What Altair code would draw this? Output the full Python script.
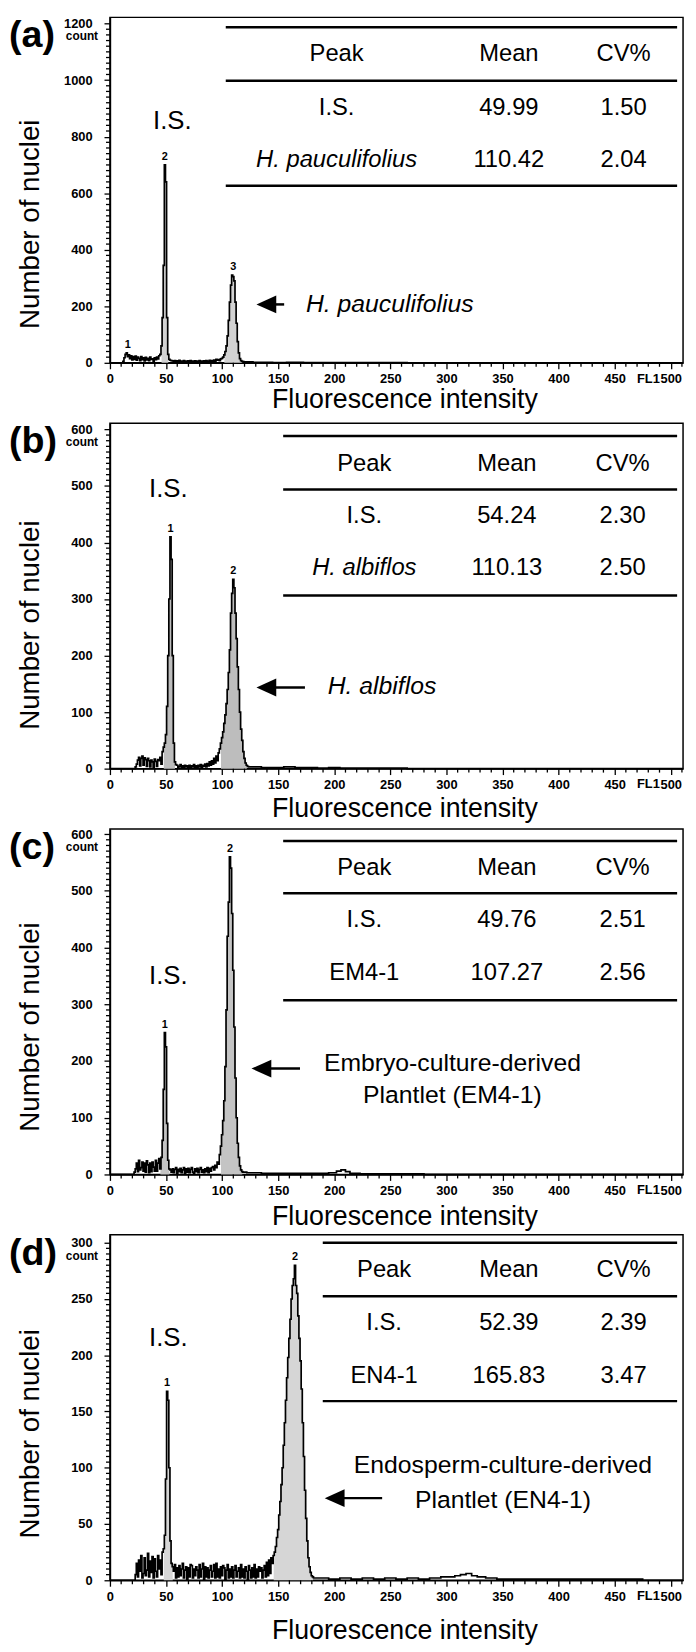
import altair as alt
import pandas as pd

W, H = 579, 349
XMAX = 511
FONT = "Liberation Sans"

# ---------------- axis ticks ----------------
x_ticks = [0, 50, 100, 150, 200, 250, 300, 350, 400, 450, 500]
x_minor = [10, 20, 30, 40, 60, 70, 80, 90, 110, 120, 130, 140, 160, 170, 180, 190,
           210, 220, 230, 240, 260, 270, 280, 290, 310, 320, 330, 340, 360, 370, 380, 390,
           410, 420, 430, 440, 460, 470, 480, 490, 510]

# ---------------- panel (a) ----------------
a_start = 11
a_counts = [0, 5, 18, 30, 35, 22, 28, 15, 25, 10, 22, 12, 24, 9, 20, 16, 8, 22, 11, 18,
            7, 19, 10, 16, 8, 20, 12, 14, 6, 18, 11, 20, 14, 25, 30,
            60, 160, 345, 700, 640, 160, 30, 12, 9, 8,
            7, 3, 8, 2, 7, 4, 9, 3, 6, 2, 8, 3, 6, 2, 7, 4, 8, 2, 6, 3,
            7, 2, 6, 3, 8, 2, 6, 3, 7, 4, 8, 3, 6, 9, 4, 8, 5, 10, 6, 12, 9, 11, 8, 14, 16,
            20, 28, 40, 60, 95, 150, 215, 275, 310, 305, 290, 215, 140, 75, 35, 15, 8, 5, 4, 3]
a_tail_x = [125, 130, 140, 150, 165, 180, 200, 220, 250, 280, 511]
a_tail_y = [3, 2, 2, 1, 2, 1, 1, 1, 1, 0, 0]
a_gates = [(46, 52), (102, 118)]
a_yticks = [0, 200, 400, 600, 800, 1000, 1200]
a_peaks_x = [16, 49, 110]
a_peaks_y = [35, 700, 310]
a_peaks_t = ["1", "2", "3"]
a_rows_peak = ["I.S.", "H. pauculifolius"]
a_rows_mean = ["49.99", "110.42"]
a_rows_cv = ["1.50", "2.04"]
a_rows_italic = [False, True]
a_note = ["H. pauculifolius"]

# ---------------- panel (b) ----------------
b_start = 22
b_counts = [0, 3, 8, 15, 20, 5, 18, 22, 6, 19, 16, 4, 18, 14, 3, 15, 12, 2, 17, 13,
            4, 16, 14, 20, 8, 30,
            38, 45, 60, 110, 200, 300, 410, 370, 200, 45, 12, 7,
            6, 2, 4, 7, 2, 5, 1, 6, 3, 5, 2, 6, 1, 5, 3, 7, 2, 5, 1, 6,
            3, 7, 2, 6, 4, 8, 3, 9, 5, 12, 6, 14, 8, 18, 10, 22, 14, 28,
            35, 45, 55, 65, 80, 95, 115, 140, 170, 210, 275, 310, 335, 320, 275, 230, 180,
            140, 100, 70, 50, 30, 18, 10, 6, 4, 3]
b_tail_x = [130, 140, 150, 160, 170, 180, 190, 200, 210, 220, 230, 250, 280, 511]
b_tail_y = [3, 2, 2, 3, 2, 2, 1, 2, 1, 1, 1, 1, 0, 0]
b_gates = [(48, 58), (99, 122)]
b_yticks = [0, 100, 200, 300, 400, 500, 600]
b_peaks_x = [54, 110]
b_peaks_y = [410, 335]
b_peaks_t = ["1", "2"]
b_rows_peak = ["I.S.", "H. albiflos"]
b_rows_mean = ["54.24", "110.13"]
b_rows_cv = ["2.30", "2.50"]
b_rows_italic = [False, True]
b_note = ["H. albiflos"]

# ---------------- panel (c) ----------------
c_start = 21
c_counts = [0, 4, 10, 20, 5, 25, 8, 12, 22, 6, 20, 4, 24, 17, 3, 20, 5, 22, 13, 6,
            25, 6, 20, 28, 10, 30,
            60, 150, 250, 225, 90, 25, 10, 8,
            4, 10, 3, 9, 12, 2, 9, 5, 11, 3, 8, 12, 2, 10, 4, 11, 3, 9, 12, 4,
            2, 10, 5, 11, 3, 9, 12, 4, 8, 3, 10, 5, 12, 3, 11, 6, 12, 14, 8, 16,
            12, 22, 18, 35, 50,
            70, 95, 130, 190, 290, 420, 480, 560, 540, 460, 360, 260, 170, 100, 55, 30, 15, 8, 5, 4]
c_tail_x = [125, 130, 140, 150, 160, 170, 180, 190, 200, 204, 208, 212, 216, 230, 260, 300, 511]
c_tail_y = [3, 3, 2, 2, 2, 2, 2, 2, 3, 6, 8, 5, 2, 1, 1, 0, 0]
c_gates = [(45, 53), (99, 118)]
c_yticks = [0, 100, 200, 300, 400, 500, 600]
c_peaks_x = [49, 107]
c_peaks_y = [250, 560]
c_peaks_t = ["1", "2"]
c_rows_peak = ["I.S.", "EM4-1"]
c_rows_mean = ["49.76", "107.27"]
c_rows_cv = ["2.51", "2.56"]
c_rows_italic = [False, False]
c_note = ["Embryo-culture-derived", "Plantlet (EM4-1)"]

# ---------------- panel (d) ----------------
d_start = 22
d_counts = [0, 5, 15, 3, 18, 8, 22, 2, 6, 20, 4, 9, 24, 3, 17, 7, 21, 2, 19, 8,
            3, 22, 10, 18, 5, 25, 28,
            40, 90, 168, 160, 100, 35, 15, 12,
            8, 14, 2, 11, 3, 13, 4, 10, 15, 2, 9, 12, 1, 11, 3, 14, 13, 2, 10, 4,
            12, 9, 2, 14, 3, 10, 15, 1, 12, 3, 11, 2, 9, 13, 3, 8, 14, 2, 15, 3,
            10, 2, 12, 4, 13, 11, 1, 9, 14, 2, 10, 3, 12, 2, 9, 13, 3, 8, 11, 2,
            14, 3, 10, 2, 12, 8, 1, 13, 9, 2, 11, 3, 14, 2, 10, 3, 12, 8, 11, 2,
            9, 13, 3, 16, 4, 18, 6, 20, 15,
            22, 25, 30, 38, 45, 58, 70, 85, 100, 120, 140, 160, 180, 198, 215, 232, 250, 262,
            268, 280, 262, 255, 235, 215, 195, 170, 140, 110, 80, 55, 35, 20, 12, 7, 4, 3, 2]
d_tail_x = [190, 200, 210, 220, 230, 240, 250, 260, 270, 280, 290, 300, 305, 310, 315, 320,
            325, 330, 340, 350, 370, 400, 430, 460, 490, 511]
d_tail_y = [2, 1, 2, 1, 2, 1, 2, 1, 2, 1, 2, 3, 3, 4, 5, 6, 4, 3, 2, 1, 1, 1, 1, 1, 0, 0]
d_gates = [(48, 56), (146, 181)]
d_yticks = [0, 50, 100, 150, 200, 250, 300]
d_peaks_x = [51, 165]
d_peaks_y = [168, 280]
d_peaks_t = ["1", "2"]
d_rows_peak = ["I.S.", "EN4-1"]
d_rows_mean = ["52.39", "165.83"]
d_rows_cv = ["2.39", "3.47"]
d_rows_italic = [False, False]
d_note = ["Endosperm-culture-derived", "Plantlet (EN4-1)"]

header = ["Peak", "Mean", "CV%"]

# ---------------- layout (pixel positions inside each panel) ----------------
panels = [
    dict(tag="(a)", start=a_start, counts=a_counts, tx=a_tail_x, ty=a_tail_y, gates=a_gates,
         ymax=1222, yticks=a_yticks, px=a_peaks_x, py=a_peaks_y, pt=a_peaks_t,
         rp=a_rows_peak, rm=a_rows_mean, rc=a_rows_cv, ri=a_rows_italic, note=a_note,
         rule_x=(117, 573), rule_y=(10, 64, 170), text_y=(37, 92, 144), cols=(229, 403, 519),
         is_pos=(63, 105), arrow=(148, 176, 290), note_pos=("left", 198, 290, 0),
         xt_off=46, yt_y=209, fill="#d2d2d2"),
    dict(tag="(b)", start=b_start, counts=b_counts, tx=b_tail_x, ty=b_tail_y, gates=b_gates,
         ymax=611, yticks=b_yticks, px=b_peaks_x, py=b_peaks_y, pt=b_peaks_t,
         rp=b_rows_peak, rm=b_rows_mean, rc=b_rows_cv, ri=b_rows_italic, note=b_note,
         rule_x=(175, 573), rule_y=(13, 67, 174), text_y=(41, 94, 146), cols=(257, 401, 518),
         is_pos=(59, 67), arrow=(148, 197, 267), note_pos=("left", 220, 266, 0),
         xt_off=49, yt_y=204, fill="#bdbdbd"),
    dict(tag="(c)", start=c_start, counts=c_counts, tx=c_tail_x, ty=c_tail_y, gates=c_gates,
         ymax=609, yticks=c_yticks, px=c_peaks_x, py=c_peaks_y, pt=c_peaks_t,
         rp=c_rows_peak, rm=c_rows_mean, rc=c_rows_cv, ri=c_rows_italic, note=c_note,
         rule_x=(175, 573), rule_y=(12, 65, 173), text_y=(39, 92, 146), cols=(257, 401, 518),
         is_pos=(59, 149), arrow=(143, 192, 242), note_pos=("center", 346, 236, 33),
         xt_off=51, yt_y=200, fill="#c4c4c4"),
    dict(tag="(d)", start=d_start, counts=d_counts, tx=d_tail_x, ty=d_tail_y, gates=d_gates,
         ymax=307, yticks=d_yticks, px=d_peaks_x, py=d_peaks_y, pt=d_peaks_t,
         rp=d_rows_peak, rm=d_rows_mean, rc=d_rows_cv, ri=d_rows_italic, note=d_note,
         rule_x=(215, 573), rule_y=(8, 62, 168), text_y=(36, 89, 143), cols=(277, 403, 519),
         is_pos=(59, 104), arrow=(217, 275, 266), note_pos=("center", 397, 233, 35),
         xt_off=59, yt_y=201, fill="#d6d6d6"),
]

ONE = pd.DataFrame({"k": [0]})


def txt(s, x, y, size, align="center", baseline="middle", weight="normal", style="normal", angle=0):
    kw = dict(text=s, fontSize=size, font=FONT, align=align, baseline=baseline,
              fontWeight=weight, fontStyle=style, color="black")
    if angle:
        kw["angle"] = angle
    return alt.Chart(ONE).mark_text(**kw).encode(x=alt.value(x), y=alt.value(y))


def hrule(x1, x2, y, w=2.5):
    return alt.Chart(ONE).mark_rule(color="black", strokeWidth=w).encode(
        x=alt.value(x1), x2=alt.value(x2), y=alt.value(y))


def make_panel(p):
    xs = [0] + list(range(p["start"], p["start"] + len(p["counts"]))) + p["tx"]
    ys = [0] + p["counts"] + p["ty"]
    hist = pd.DataFrame({"ch": xs, "n": ys})
    parts = []
    for gi, (g0, g1) in enumerate(p["gates"]):
        sub = hist[(hist.ch >= g0) & (hist.ch <= g1)].copy()
        sub["g"] = gi
        parts.append(sub)
    gated = pd.concat(parts)

    ytop = p["yticks"][-1]
    ystep = p["yticks"][1]
    y_minor = [v for v in range(0, ytop + 1, ystep // 10) if v % ystep]

    X = alt.X("ch:Q", scale=alt.Scale(domain=[0, XMAX], nice=False, zero=False),
              axis=alt.Axis(values=x_ticks, title=None, labelFlush=False, labelOverlap=False,
                            tickSize=6, labelPadding=4, grid=False, format="d"))
    Y = alt.Y("n:Q", stack=None, scale=alt.Scale(domain=[0, p["ymax"]], nice=False),
              axis=alt.Axis(values=p["yticks"], title=None, labelFlush=False, labelOverlap=False,
                            tickSize=6, labelPadding=12, grid=False, format="d"))

    layers = []
    layers.append(alt.Chart(gated).mark_area(interpolate="step", color=p["fill"])
                  .encode(x=X, y=Y, detail="g:N"))
    layers.append(alt.Chart(hist).mark_line(interpolate="step", color="black", strokeWidth=1.7)
                  .encode(x=X, y=Y))
    # minor ticks
    layers.append(alt.Chart(pd.DataFrame({"ch": x_minor})).mark_rule(color="black", strokeWidth=1.3)
                  .encode(x=X, y=alt.value(H), y2=alt.value(H + 4)))
    layers.append(alt.Chart(pd.DataFrame({"n": y_minor})).mark_rule(color="black", strokeWidth=1.3)
                  .encode(y=Y, x=alt.value(0), x2=alt.value(-4)))
    # count / FL1 labels
    layers.append(alt.Chart(pd.DataFrame({"n": [ytop]})).mark_text(
        text="count", fontSize=12, fontWeight="bold", font=FONT, align="right", dy=13, color="black")
        .encode(y=Y, x=alt.value(-12)))
    layers.append(alt.Chart(pd.DataFrame({"ch": [500]})).mark_text(
        text="FL1", fontSize=13, fontWeight="bold", font=FONT, align="right", baseline="top",
        dx=-11, color="black").encode(x=X, y=alt.value(H + 10)))
    # peak numbers
    pk = pd.DataFrame({"ch": p["px"], "n": p["py"], "t": p["pt"]})
    layers.append(alt.Chart(pk).mark_text(fontSize=11, fontWeight="bold", font=FONT,
                                          baseline="bottom", dy=-3, color="black")
                  .encode(x=X, y=Y, text="t:N"))
    # table
    x1, x2 = p["rule_x"]
    for ry in p["rule_y"]:
        layers.append(hrule(x1, x2, ry))
    ty = p["text_y"]
    cols = p["cols"]
    for c, h in zip(cols, header):
        layers.append(txt(h, c, ty[0], 24))
    for r in range(2):
        layers.append(txt(p["rp"][r], cols[0], ty[r + 1], 24,
                          style="italic" if p["ri"][r] else "normal"))
        layers.append(txt(p["rm"][r], cols[1], ty[r + 1], 24))
        layers.append(txt(p["rc"][r], cols[2], ty[r + 1], 24))
    # I.S. label
    layers.append(txt("I.S.", p["is_pos"][0], p["is_pos"][1], 26))
    # arrow
    tip, end, ay = p["arrow"]
    layers.append(hrule(tip + 12, end, ay, w=2.5))
    layers.append(alt.Chart(ONE).mark_point(shape="M-1,0L1,-0.9L1,0.9Z", filled=True, color="black",
                                            opacity=1, size=400, strokeWidth=0)
                  .encode(x=alt.value(tip + 10), y=alt.value(ay)))
    # annotation
    al, nx, ny, gap = p["note_pos"]
    for i, line in enumerate(p["note"]):
        italic = line.startswith("H.")
        layers.append(txt(line, nx, ny + i * gap, 25, align=al, style="italic" if italic else "normal"))
    # panel tag and titles
    layers.append(txt(p["tag"], -102, 19, 38, align="left", weight="bold"))
    layers.append(txt("Number of nuclei", -72, p["yt_y"], 28, baseline="alphabetic", angle=270))
    layers.append(txt("Fluorescence intensity", 298, H + p["xt_off"], 27, baseline="alphabetic"))

    return alt.layer(*layers).properties(width=W, height=H)


chart = alt.vconcat(*[make_panel(p) for p in panels], spacing=61, bounds="flush").properties(
    padding={"left": 0, "top": 0, "right": 0, "bottom": 0}
).configure_view(stroke="black", strokeWidth=1.5).configure_axis(
    labelFont=FONT, labelFontSize=13, labelFontWeight="bold", labelColor="black",
    tickColor="black", domainColor="black", tickWidth=1.3, domainWidth=1.5
)

chart.save("out.html", embed_options={"renderer": "svg", "actions": False})
